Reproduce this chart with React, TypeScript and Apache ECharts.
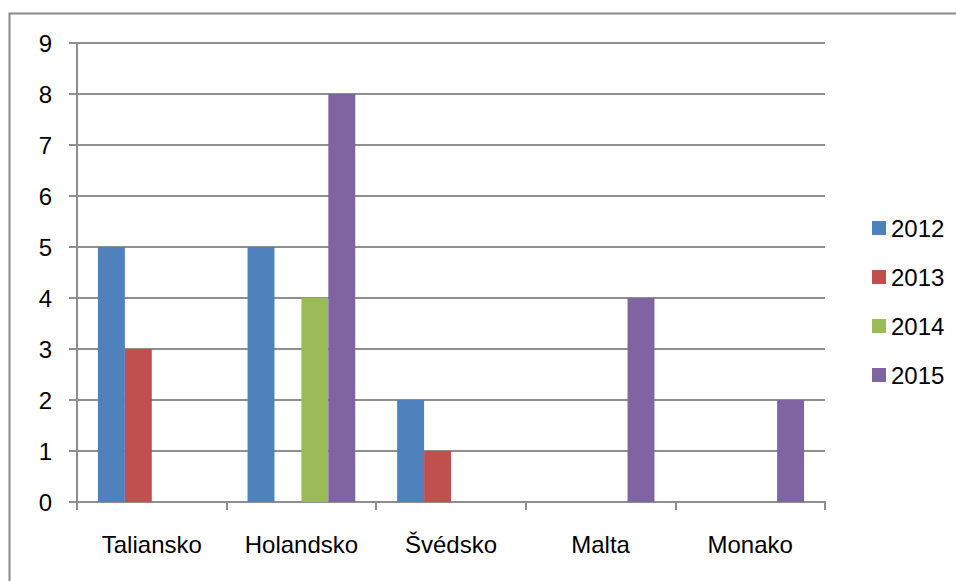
import React, { useEffect, useRef } from "react";
import * as echarts from "echarts";

const categories = ["Taliansko", "Holandsko", "Švédsko", "Malta", "Monako"];
const seriesNames = ["2012", "2013", "2014", "2015"];
const values2012 = [5, 5, 2, 0, 0];
const values2013 = [3, 0, 1, 0, 0];
const values2014 = [0, 4, 0, 0, 0];
const values2015 = [0, 8, 0, 4, 2];
const colors = ["#4F81BD", "#C0504D", "#9BBB59", "#8064A2"];

const FONT = "'Liberation Sans', Arial, sans-serif";
const GRID = "#8e8e8e";

export default function App() {
  const ref = useRef<HTMLDivElement>(null);
  useEffect(() => {
    document.body.style.margin = "0";
    const chart = echarts.init(ref.current!, undefined, { renderer: "svg" });
    const all = [values2012, values2013, values2014, values2015];
    chart.setOption({
      animation: false,
      color: colors,
      textStyle: { fontFamily: FONT },
      graphic: [
        {
          type: "rect",
          shape: { x: 9.5, y: 13.5, width: 1200, height: 1200 },
          style: { fill: "none", stroke: "#8a8a8a", lineWidth: 2 },
          silent: true,
        },
      ],
      grid: { left: 77, top: 43, right: 131, bottom: 79 },
      legend: {
        orient: "vertical",
        left: 867,
        top: 211,
        itemWidth: 14,
        itemHeight: 14,
        itemGap: 25,
        icon: "rect",
        data: seriesNames,
        textStyle: { fontFamily: FONT, fontSize: 24, color: "#000", lineHeight: 24 },
      },
      xAxis: {
        type: "category",
        data: categories,
        axisLine: { lineStyle: { color: GRID, width: 2 } },
        axisTick: { show: true, length: 8, lineStyle: { color: GRID, width: 2 } },
        axisLabel: { fontFamily: FONT, fontSize: 24, color: "#000", margin: 30 },
      },
      yAxis: {
        type: "value",
        min: 0,
        max: 9,
        interval: 1,
        axisLine: { show: true, lineStyle: { color: GRID, width: 2 } },
        axisTick: { show: true, length: 8, lineStyle: { color: GRID, width: 2 } },
        splitLine: { show: true, lineStyle: { color: GRID, width: 2 } },
        axisLabel: { fontFamily: FONT, fontSize: 24, color: "#000", margin: 25 },
      },
      series: seriesNames.map((name, i) => ({
        name,
        type: "bar",
        data: all[i],
        barGap: "0%",
        barCategoryGap: "28%",
        itemStyle: { color: colors[i] },
      })),
    });
    return () => chart.dispose();
  }, []);
  return <div ref={ref} style={{ width: 956, height: 581 }} />;
}
